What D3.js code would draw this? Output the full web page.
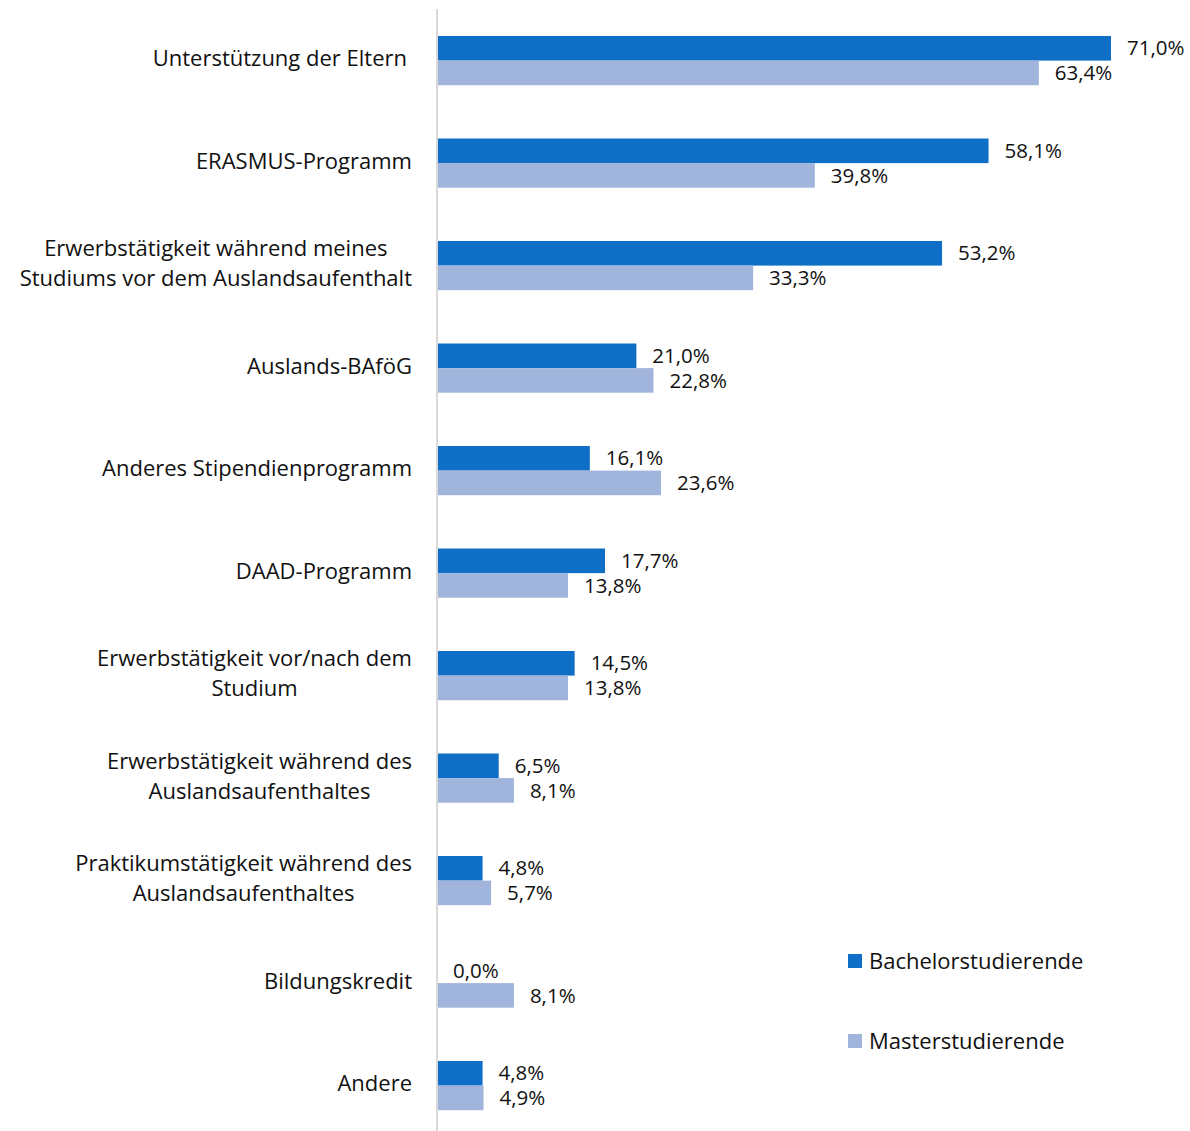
<!DOCTYPE html>
<html>
<head>
<meta charset="utf-8">
<script src="https://cdn.jsdelivr.net/npm/d3@7"></script>
<style>
	body { margin: 0; background: #fff; }
	svg text { font-family: "Open Sans", "Noto Sans", sans-serif; fill: #111; }
</style>
</head>
<body>
<svg id="chart" width="1190" height="1131"></svg>
<script>
'use strict';

// Data
var categories = [
	['Unterstützung der Eltern'],
	['ERASMUS-Programm'],
	['Erwerbstätigkeit während meines', 'Studiums vor dem Auslandsaufenthalt'],
	['Auslands-BAföG'],
	['Anderes Stipendienprogramm'],
	['DAAD-Programm'],
	['Erwerbstätigkeit vor/nach dem', 'Studium'],
	['Erwerbstätigkeit während des', 'Auslandsaufenthaltes'],
	['Praktikumstätigkeit während des', 'Auslandsaufenthaltes'],
	['Bildungskredit'],
	['Andere']
];
var seriesNames = ['Bachelorstudierende', 'Masterstudierende'];
var bachelor = [71.0, 58.1, 53.2, 21.0, 16.1, 17.7, 14.5, 6.5, 4.8, 0.0, 4.8];
var master = [63.4, 39.8, 33.3, 22.8, 23.6, 13.8, 13.8, 8.1, 5.7, 8.1, 4.9];
var colors = ['#0f6fc6', '#a0b4dc'];

var svg = d3.select('#chart');
var labelSize = 22;
var valueSize = 20.5;
var fmt = function(v) { return v.toFixed(1).replace('.', ',') + '%'; };

// Scales
var idx = d3.range(categories.length);
var y = d3.scaleBand()
	.domain(idx)
	.range([9.35, 1136.85])
	.paddingInner(0.52)
	.paddingOuter(0.26);
var ySub = d3.scaleBand()
	.domain([0, 1])
	.range([0, y.bandwidth()]);
var x = d3.scaleLinear()
	.domain([0, 71])
	.range([437, 1111]);

// Axis line
svg.append('line')
	.attr('x1', 437).attr('x2', 437)
	.attr('y1', 9).attr('y2', 1131)
	.attr('stroke', '#d9d9d9')
	.attr('stroke-width', 2);

// Bars
var groups = svg.selectAll('.grp')
	.data(idx)
	.enter()
	.append('g')
	.attr('class', 'grp')
	.attr('transform', function(i) { return 'translate(0,' + y(i) + ')'; });

[bachelor, master].forEach(function(vals, s) {
	groups.append('rect')
		.attr('x', x(0) + 1)
		.attr('y', ySub(s))
		.attr('width', function(i) { return Math.max(0, x(vals[i]) - x(0) - 1); })
		.attr('height', ySub.bandwidth())
		.attr('fill', colors[s]);

	groups.append('text')
		.attr('x', function(i) { return x(vals[i]) + 16; })
		.attr('y', ySub(s) + ySub.bandwidth() / 2)
		.attr('dy', '0.35em')
		.style('font-size', valueSize + 'px')
		.text(function(i) { return fmt(vals[i]); });
});

// Category labels (centered block, right edge at 412)
groups.each(function(i) {
	var g = d3.select(this);
	var lines = categories[i];
	var t = g.append('text')
		.style('font-size', labelSize + 'px')
		.attr('text-anchor', 'middle');
	var lh = 30;
	var cy = y.bandwidth() / 2 - (lines.length - 1) * lh / 2 - 2;
	lines.forEach(function(l, k) {
		t.append('tspan')
			.attr('y', cy + k * lh)
			.attr('dy', '0.35em')
			.text(l);
	});
	var maxW = 0;
	t.selectAll('tspan').each(function() {
		maxW = Math.max(maxW, this.getComputedTextLength());
	});
	var right = i === 0 ? 407 : 412;
	t.selectAll('tspan').attr('x', right - maxW / 2);
});

// Legend
var legend = svg.selectAll('.leg')
	.data(seriesNames)
	.enter()
	.append('g')
	.attr('class', 'leg')
	.attr('transform', function(d, i) { return 'translate(848,' + (954 + i * 80) + ')'; });
legend.append('rect')
	.attr('width', 14).attr('height', 14)
	.attr('fill', function(d, i) { return colors[i]; });
legend.append('text')
	.attr('x', 21).attr('y', 7)
	.attr('dy', '0.35em')
	.style('font-size', labelSize + 'px')
	.text(function(d) { return d; });
</script>
</body>
</html>
